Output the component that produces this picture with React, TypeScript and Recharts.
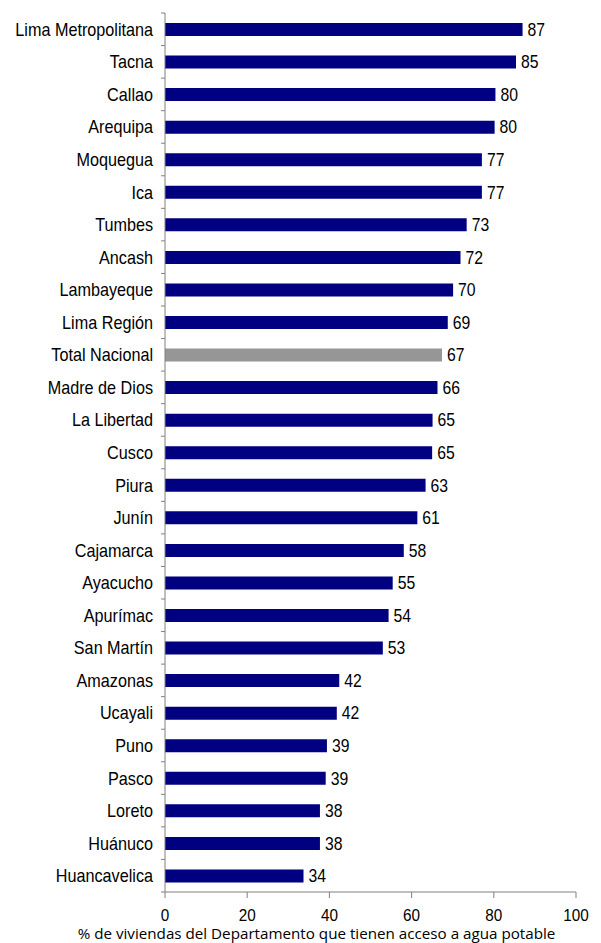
import { BarChart, Bar, XAxis, YAxis, Cell, LabelList } from 'recharts';

const regions = [
    'Lima Metropolitana', 'Tacna', 'Callao', 'Arequipa', 'Moquegua', 'Ica', 'Tumbes', 'Ancash',
    'Lambayeque', 'Lima Región', 'Total Nacional', 'Madre de Dios', 'La Libertad', 'Cusco',
    'Piura', 'Junín', 'Cajamarca', 'Ayacucho', 'Apurímac', 'San Martín', 'Amazonas', 'Ucayali',
    'Puno', 'Pasco', 'Loreto', 'Huánuco', 'Huancavelica',
];

// % de viviendas con acceso a agua potable
const acceso = [
    87.0, 85.4, 80.4, 80.2, 77.1, 77.1, 73.4, 71.9, 70.1, 68.8, 67.4, 66.3, 65.1, 65.0,
    63.4, 61.4, 58.1, 55.4, 54.4, 53.0, 42.4, 41.8, 39.4, 39.1, 37.7, 37.7, 33.7,
];

const xTicks = [0, 20, 40, 60, 80, 100];

const data = regions.map((region, i) => ({ region, acceso: acceso[i] }));

const NAVY = '#000080';
const GREY = '#969696';
const AXIS = '#808080';
const FONT = '"Liberation Sans", Arial, sans-serif';

// Arial-ish text squeezed a bit, like the original export
const Narrow = ({ x, y, anchor, dy, size = 18, children }: any) => (
    <text
        transform={`translate(${x},${y}) scale(0.9,1)`}
        textAnchor={anchor}
        dy={dy}
        fill="#000"
        fontSize={size}
        fontFamily={FONT}
    >
        {children}
    </text>
);

const RegionTick = (props: any) => {
    const { x, y, payload, index, visibleTicksCount } = props;
    const half = payload?.offset || 16.27;
    const ax = x + 12;
    return (
        <g>
            <line x1={ax - 4} x2={ax} y1={y - half} y2={y - half} stroke={AXIS} />
            {index === visibleTicksCount - 1 && (
                <line x1={ax - 4} x2={ax} y1={y + half} y2={y + half} stroke={AXIS} />
            )}
            <Narrow x={x} y={y} anchor="end" dy="0.36em">{payload.value}</Narrow>
        </g>
    );
};

const ValueTick = (props: any) => {
    const { x, y, payload } = props;
    return <Narrow x={x} y={y} anchor="middle" dy="0.71em" size={17}>{payload.value}</Narrow>;
};

const BarValue = (props: any) => {
    const { x, y, width, height, value } = props;
    return (
        <Narrow x={x + width + 5} y={y + height / 2} anchor="start" dy="0.36em" size={17.5}>
            {Math.round(Number(value))}
        </Narrow>
    );
};

const AxisTitle = (props: any) => {
    const vb = props.viewBox || {};
    return (
        <text
            x={vb.x + vb.width / 2 - 54}
            y={vb.y + vb.height - 4}
            textAnchor="middle"
            fill="#000"
            fontSize={15.2}
            fontFamily='"Open Sans", sans-serif'
        >
            % de viviendas del Departamento que tienen acceso a agua potable
        </text>
    );
};

const App = () => {
    return (
        <div style={{ width: 601, height: 943 }}>
            <style>{'body{margin:0}'}</style>
            <BarChart
                width={601}
                height={943}
                data={data}
                layout="vertical"
                margin={{ top: 13, right: 25, bottom: 0, left: 0 }}
                barSize={13}
            >
                <XAxis
                    type="number"
                    domain={[0, 100]}
                    ticks={xTicks}
                    height={51}
                    stroke={AXIS}
                    tickSize={6}
                    tickMargin={11}
                    tick={<ValueTick />}
                    label={<AxisTitle />}
                />
                <YAxis
                    type="category"
                    dataKey="region"
                    width={165}
                    stroke={AXIS}
                    tickLine={false}
                    tickSize={4}
                    tickMargin={8}
                    interval={0}
                    tick={<RegionTick />}
                />
                <Bar dataKey="acceso" isAnimationActive={false}>
                    {data.map((d) => (
                        <Cell key={d.region} fill={d.region === 'Total Nacional' ? GREY : NAVY} />
                    ))}
                    <LabelList dataKey="acceso" content={<BarValue />} />
                </Bar>
            </BarChart>
        </div>
    );
};

export default App;
